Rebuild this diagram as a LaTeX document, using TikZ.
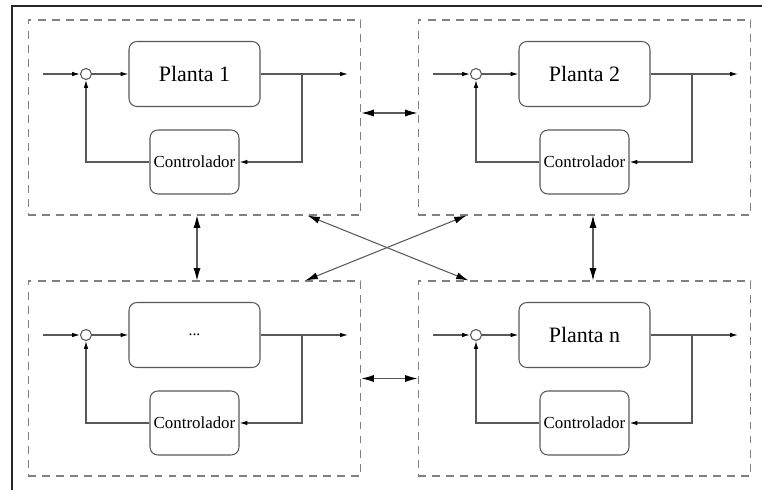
\documentclass[tikz,border=0pt]{standalone}
\usepackage{fontspec}
\setmainfont{Liberation Serif}
\usepackage{tikz}
\usetikzlibrary{arrows,arrows.meta,positioning}
\tikzset{>={Latex[length=4.5pt,width=2.6pt,black]}}
\tikzstyle{block} = [draw=black!65, line width=0.6pt, rounded corners=4.5pt]
\tikzstyle{panel} = [draw=black!50, line width=0.6pt, dash pattern=on 4.5pt off 3.5pt, minimum width=6.66cm, minimum height=3.9cm, inner sep=0pt]
\tikzstyle{link} = [<->, >={Latex[length=7pt,width=4pt,black]}, draw=black!65, line width=0.6pt]
\newcommand{\plantdots}{{\small ...}}

\begin{document}
\begin{tikzpicture}[x=0.02cm, y=-0.02cm, line width=0.6pt]
    \useasboundingbox (0,0) rectangle (762,490);
    % frame
    \draw[line width=1.1pt, black!85] (12,490) -- (12,6) -- (762,6);
    \foreach \id/\dx/\dy/\txt in {1/0/0/Planta 1, 2/390/0/Planta 2, 3/0/261/\plantdots, 4/390/261/Planta n}
    {
    \begin{scope}[shift={(\dx,\dy)}]
        \node [panel](p\id) at (194.5, 117.5) {};
        \node [block, minimum width=2.62cm, minimum height=1.3cm, font=\fontsize{12.5}{14}\selectfont](pl\id) at (194.5, 74) {\txt};
        \node [block, minimum width=1.78cm, minimum height=1.28cm, inner sep=0pt, font=\fontsize{9.6}{11}\selectfont](c\id) at (194.5, 162) {Controlador};
        \node [circle, draw=black!65, fill=white, inner sep=0pt, minimum size=0.22cm](s\id) at (86, 74) {};
        \coordinate (in\id) at (43, 74);
        \coordinate (br\id) at (302, 74);
        \coordinate (out\id) at (348, 74);
        \draw [->, black!65] (in\id) -- (s\id);
        \draw [->, black!65] (s\id) -- (pl\id);
        \draw [black!65] (pl\id) -- (br\id);
        \draw [->, black!65] (br\id) -- (out\id);
        \draw [->, black!65] (br\id) |- (c\id);
        \draw [->, black!65] (c\id) -| (s\id);
    \end{scope}
    }
    \draw [link] ([yshift=0.09cm]p1.east) -- ([yshift=0.09cm]p2.west);
    \draw [link] (p3.east) -- (p4.west);
    \draw [link] ([xshift=0.05cm]p1.south) -- ([xshift=0.05cm]p3.north);
    \draw [link] ([xshift=0.17cm]p2.south) -- ([xshift=0.17cm]p4.north);
    \draw [link] ([xshift=-1.08cm]p1.south east) -- ([xshift=1.02cm]p4.north west);
    \draw [link] ([xshift=0.98cm]p2.south west) -- ([xshift=-1.12cm]p3.north east);
\end{tikzpicture}
\end{document}
